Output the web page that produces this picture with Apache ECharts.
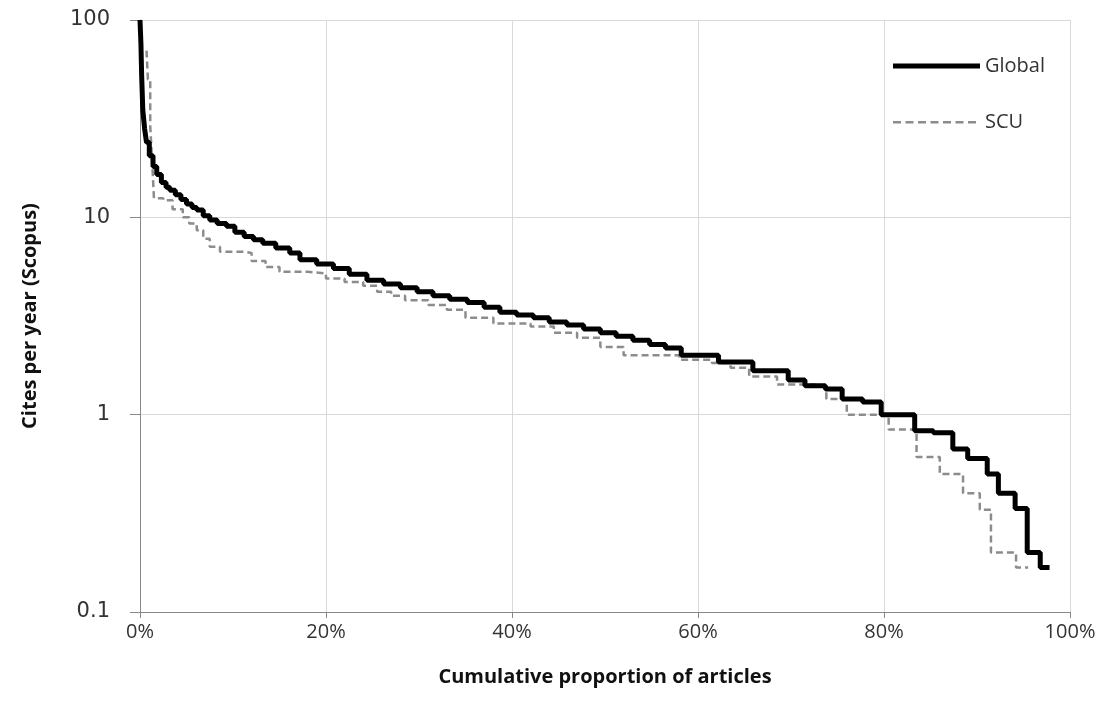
<!DOCTYPE html>
<html><head><meta charset="utf-8">
<script src="https://cdn.jsdelivr.net/npm/echarts@6/dist/echarts.min.js"></script>
<style>html,body{margin:0;padding:0;background:#fff}#c{width:1114px;height:720px}</style>
</head><body><div id="c"></div>
<script>
// Global: [cumulative %, cites per year] left edge of each level
var globalX = [0,0.1,0.18,0.3,0.5,0.7,1.0,1.4,1.8,2.3,2.8,3.2,3.8,4.4,5.0,5.6,6.1,6.8,7.5,8.3,9.3,10.2,11.2,12.2,13.2,14.6,16.1,17.2,19,20.8,22.5,24.4,26.2,28,29.8,31.5,33.3,35.2,37,38.7,40.5,42.3,44,45.9,47.7,49.5,51.2,53,54.8,56.5,58.2,62.2,65.9,69.7,71.5,73.7,75.5,77.7,79.7,83.3,85.3,87.4,89.0,91.1,92.3,94.1,95.4,96.8,97.8];
var globalY = [100,76,52,35,28,24,20.5,18.1,16.5,15,14.2,13.7,13,12.3,11.7,11.2,10.9,10.2,9.7,9.3,9.0,8.4,8.0,7.7,7.4,7.0,6.6,6.1,5.8,5.5,5.15,4.8,4.6,4.4,4.2,4.0,3.85,3.7,3.5,3.3,3.2,3.1,2.95,2.85,2.72,2.6,2.5,2.38,2.27,2.18,2.0,1.85,1.67,1.5,1.4,1.35,1.2,1.16,1.0,0.83,0.81,0.67,0.6,0.5,0.4,0.335,0.2,0.168,0.168];
// SCU
var scuX = [0.7,0.85,1.1,1.3,1.5,2.5,3.5,4.6,5.3,6.1,6.8,7.5,8.6,11,12,13.5,15,18,20,22,24,25.5,27,28.5,31,33,35,38,42,44.5,47,49.5,52,58,61.5,63.5,65.5,68.5,72.5,73.8,76,80.5,83.5,86,88.5,90.3,91.5,94.2,95.5];
var scuY = [70,50,29,19.5,12.5,12.2,11,10,9.3,8.6,7.8,7.1,6.7,6.6,6.0,5.6,5.3,5.2,4.9,4.7,4.5,4.2,4.0,3.8,3.6,3.4,3.1,2.9,2.8,2.6,2.45,2.2,2.0,1.9,1.83,1.73,1.56,1.42,1.39,1.2,1.0,0.84,0.61,0.5,0.4,0.33,0.2,0.168,0.168];
var xTicks = [0,20,40,60,80,100];
var yTicks = [0.1,1,10,100];

function pairs(xs, ys){ return xs.map(function(x,i){return [x, ys[i]];}); }

// legend icons: thick solid bar / dashed bar, padded to an 87x18 box
var solidIcon = 'path://M0,0L0,0M0,6.5L87,6.5L87,11.5L0,11.5ZM87,18L87,18';
var dashParts = '';
for (var k = 0; k < 7; k++) { var x0 = k * 12.5; dashParts += 'M' + x0 + ',8L' + (x0 + 8) + ',8L' + (x0 + 8) + ',10.5L' + x0 + ',10.5Z'; }
var dashIcon = 'path://M0,0L0,0' + dashParts + 'M87,18L87,18';

var chart = echarts.init(document.getElementById('c'));
chart.setOption({
  animation:false,
  backgroundColor:'#fff',
  grid:{left:140, right:44, top:20, bottom:108, containLabel:false},
  legend:{
    left:888, top:51, orient:'vertical', itemGap:36, itemWidth:87, itemHeight:18,
    textStyle:{fontFamily:'Open Sans', fontSize:20, color:'#333'},
    data:[
      {name:'Global', icon:solidIcon, itemStyle:{color:'#000', borderWidth:0}},
      {name:'SCU', icon:dashIcon, itemStyle:{color:'#8c8c8c', borderWidth:0}}
    ]
  },
  xAxis:{
    type:'value', min:0, max:100, interval:20,
    name:'Cumulative proportion of articles', nameLocation:'middle', nameGap:55,
    nameTextStyle:{fontFamily:'Open Sans', fontWeight:'bold', fontSize:20, color:'#111'},
    axisLine:{lineStyle:{color:'#888', width:1}},
    axisTick:{show:true, length:6, lineStyle:{color:'#888'}},
    axisLabel:{formatter:function(v){return v+'%';}, fontFamily:'Open Sans', fontSize:20, color:'#333', margin:10},
    splitLine:{show:true, lineStyle:{color:'#d9d9d9', width:1}}
  },
  yAxis:{
    type:'log', logBase:10, min:0.1, max:100,
    name:'Cites per year (Scopus)', nameLocation:'middle', nameGap:100, nameRotate:90,
    nameTextStyle:{fontFamily:'Open Sans', fontWeight:'bold', fontSize:20, color:'#111'},
    axisLine:{show:true, lineStyle:{color:'#888', width:1}},
    axisTick:{show:true, length:10, lineStyle:{color:'#888'}},
    minorTick:{show:false},
    axisLabel:{fontFamily:'DejaVu Sans', fontSize:21, color:'#333', margin:30,
      formatter:function(v){ var r = yTicks.filter(function(t){return Math.abs(t-v)/t<1e-6;}); return r.length? String(r[0]) : ''; }},
    splitLine:{show:true, lineStyle:{color:'#d9d9d9', width:1}}
  },
  series:[
    {name:'Global', type:'line', step:'end', symbol:'none',
     data:pairs(globalX, globalY), lineStyle:{color:'#000', width:5}, itemStyle:{color:'#000'}, z:3},
    {name:'SCU', type:'line', step:'end', symbol:'none',
     data:pairs(scuX, scuY), lineStyle:{color:'#8c8c8c', width:2.5, type:[7,4]}, itemStyle:{color:'#8c8c8c'}, z:2}
  ]
});
</script></body></html>
